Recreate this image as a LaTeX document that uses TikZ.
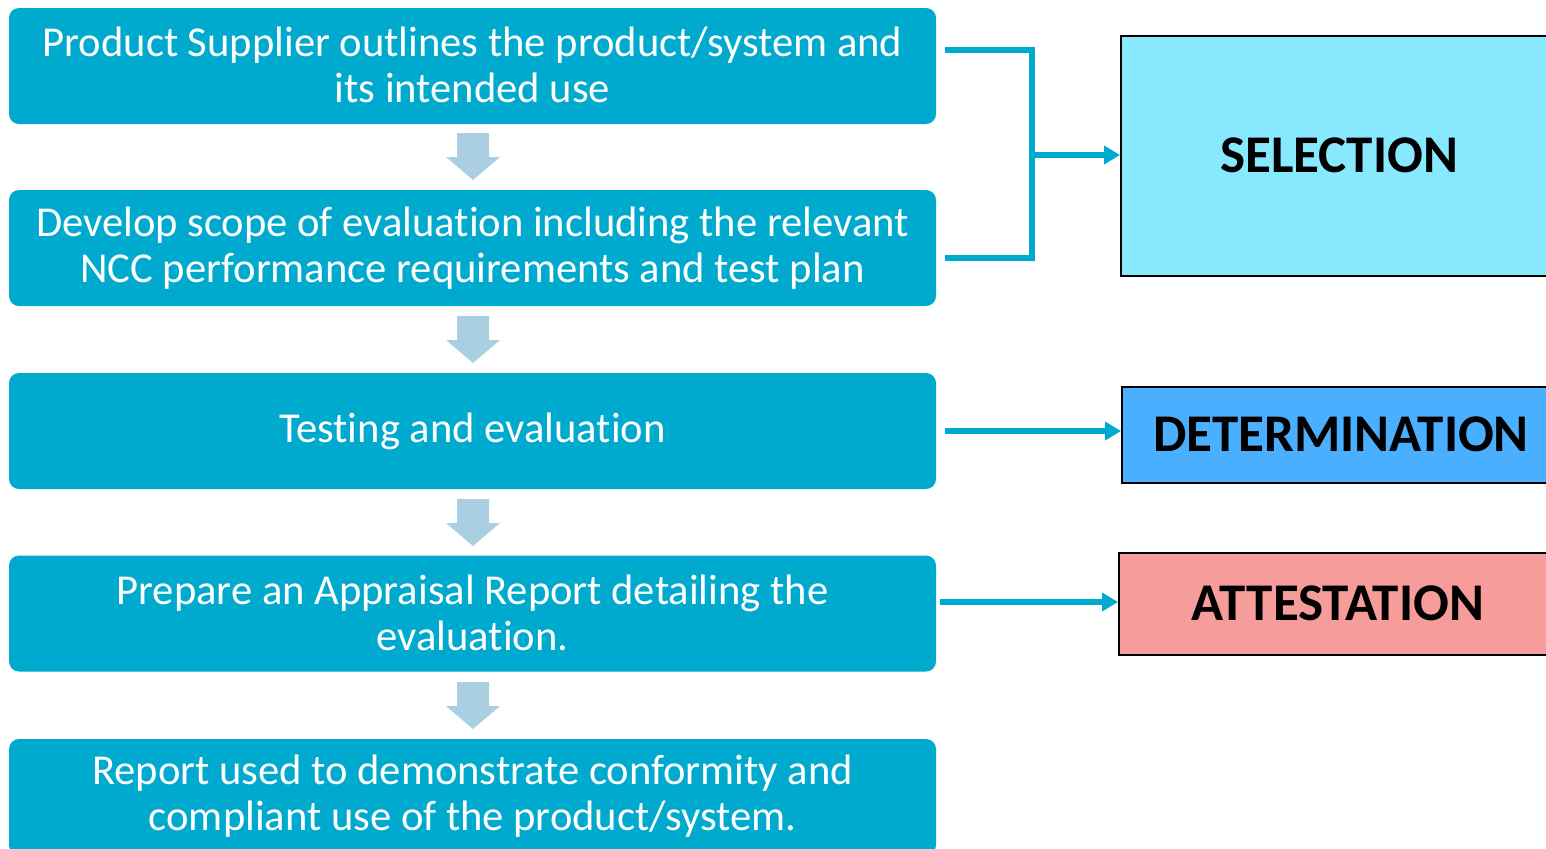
\documentclass[tikz,border=0pt]{standalone}
\usepackage{fontspec}
\setmainfont{Carlito}[Ligatures=NoCommon]
\usetikzlibrary{arrows.meta}
\definecolor{teal}{RGB}{0,170,206}
\definecolor{arr}{RGB}{170,207,226}
\definecolor{selc}{RGB}{135,232,254}
\definecolor{detc}{RGB}{74,175,255}
\definecolor{attc}{RGB}{246,157,155}
\tikzset{
  stepbox/.style={fill=teal, rounded corners=5pt, minimum width=463.5pt, minimum height=58pt,
    align=center, text=white, inner sep=0pt,
    font=\fontsize{21.3pt}{23pt}\selectfont},
  steptext/.style={align=center, text=white, inner sep=0pt,
    font=\fontsize{21.3pt}{23pt}\selectfont},
  phase/.style={draw=black, line width=1pt, inner sep=0pt, anchor=north west},
  phaselabel/.style={font=\fontsize{26.5pt}{30pt}\selectfont\bfseries},
  conn/.style={draw=teal, line width=2.6pt},
  connarrow/.style={conn, -{Triangle[length=8pt,width=9pt]}},
  downarrow/.style={fill=arr}
}
\begin{document}
\begin{tikzpicture}[x=0.5pt,y=-0.5pt]
\useasboundingbox (0,0) rectangle (1546,848);
\clip (0,0) rectangle (1546,848);
% main steps
\node[stepbox] (b1) at (472.5,66) {};
\node[steptext] (t1) at (472.5,65) {Product Supplier outlines the product/system and\\its intended use};
\node[stepbox] (b2) at (472.5,248) {};
\node[steptext] (t2) at (472.5,248) {Develop scope of evaluation including the relevant\\NCC performance requirements and test plan};
\node[stepbox] (b3) at (472.5,431) {};
\node[steptext] (t3) at (472.5,431.5) {Testing and evaluation};
\node[stepbox] (b4) at (472.5,613.5) {};
\node[steptext] (t4) at (472.5,613) {Prepare an Appraisal Report detailing the\\evaluation.};
\node[stepbox] (b5) at (472.5,797) {};
\node[steptext] (t5) at (472.5,796) {Report used to demonstrate conformity and\\compliant use of the product/system.};
% down arrows
\foreach \y in {133,316,499,682}{
  \fill[downarrow] (457,\y) -- (489,\y) -- (489,\y+24) -- (500,\y+24) -- (473,\y+47) -- (446,\y+24) -- (457,\y+24) -- cycle;
}
% phase boxes
\node[phase, fill=selc, minimum width=220pt, minimum height=120pt] (sel) at (1120,35) {};
\node[phaselabel] (selt) at (1339,155) {SELECTION};
\node[phase, fill=detc, minimum width=220pt, minimum height=48pt] (det) at (1121,386) {};
\node[phaselabel] (dett) at (1341,434) {DETERMINATION};
\node[phase, fill=attc, minimum width=220pt, minimum height=51pt] (att) at (1118,552) {};
\node[phaselabel] (attt) at (1338,603) {ATTESTATION};
% connectors
\coordinate (s1) at (945,50);
\coordinate (s2) at (945,258);
\coordinate (j) at (1032,155);
\draw[conn] (s1) -| (j);
\draw[conn] (s2) -| (j);
\draw[connarrow] (j) -- (j -| sel.west);
\coordinate (d1) at (945,431);
\draw[connarrow] (d1) -- (d1 -| det.west);
\coordinate (a1) at (940,602);
\draw[connarrow] (a1) -- (a1 -| att.west);
\end{tikzpicture}
\end{document}
